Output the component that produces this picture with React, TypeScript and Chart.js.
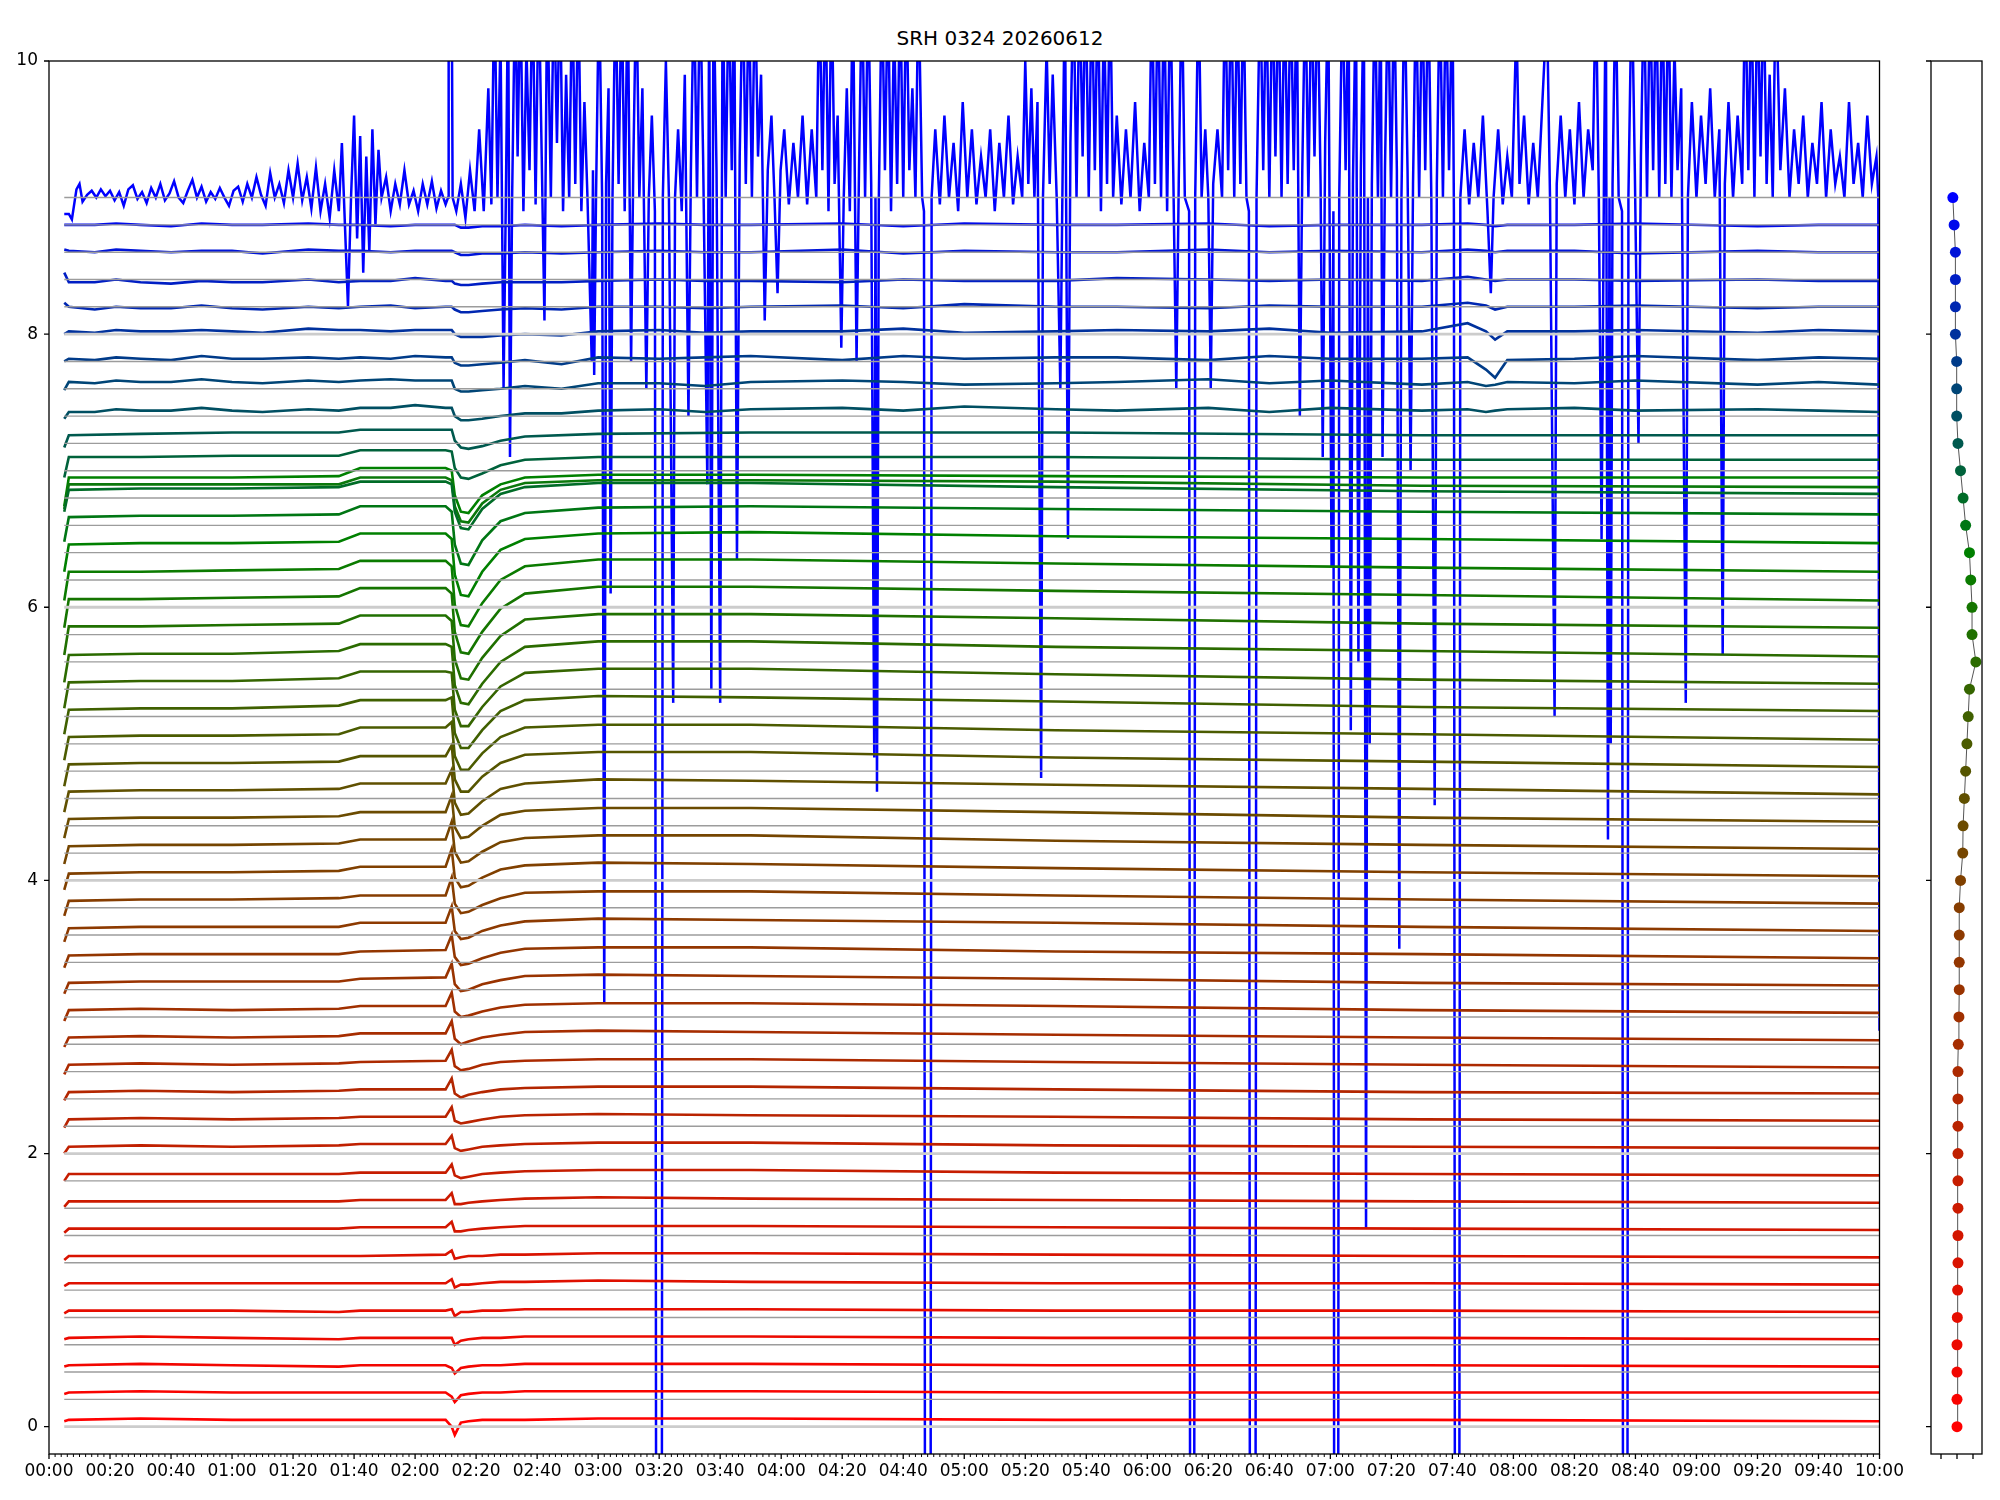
import React, { useEffect, useRef } from "react";
import { Chart, registerables } from "chart.js";
Chart.register(...registerables);

const TITLE = "SRH 0324 20260612";
const FONT = "DejaVu Sans";

// key times (minutes after 00:00) at which each trace level was read
const KEY_MIN = [5, 6.5, 30, 60, 95, 102, 130, 132, 133, 135, 137.5, 142, 148, 156, 180, 230, 330, 450, 600];

// channel vertical offsets (also the dot positions of the right panel)
const CHANNEL_OFFSETS = [
  0, 0.2, 0.4, 0.6, 0.8, 1.0, 1.2, 1.4, 1.6, 1.8, 2.0, 2.2, 2.4, 2.6, 2.8, 3.0,
  3.2, 3.4, 3.6, 3.8, 4.0, 4.2, 4.4, 4.6, 4.8, 5.0, 5.2, 5.4, 5.6, 5.8, 6.0, 6.2,
  6.4, 6.6, 6.8, 7.0, 7.2, 7.4, 7.6, 7.8, 8.0, 8.2, 8.4, 8.6, 8.8, 9.0,
];

// right panel: horizontal position of each channel dot
const DOT_X = [
  0.0, 0.0, 0.0, 0.0, 0.02, 0.04, 0.06, 0.06, 0.06, 0.06, 0.06, 0.06, 0.06, 0.06, 0.08, 0.12,
  0.14, 0.14, 0.14, 0.14, 0.22, 0.36, 0.38, 0.46, 0.54, 0.62, 0.7, 0.78, 1.18, 0.94, 0.94, 0.86,
  0.78, 0.54, 0.38, 0.22, 0.06, -0.02, -0.02, -0.02, -0.1, -0.1, -0.1, -0.1, -0.18, -0.26,
];

// deviation (hundredths) of traces 0..44 from their offsets at KEY_MIN
const TRACE_DEV = [
  [4, 5, 6, 5, 5, 5, 5, 0, -6, 3, 4, 5, 5, 5, 6, 6, 5, 5, 4],
  [4, 5, 6, 5, 5, 5, 5, 2, -2, 3, 4, 5, 5, 6, 6, 6, 5, 5, 5],
  [4, 5, 6, 5, 4, 5, 5, 3, -1, 3, 4, 5, 5, 6, 6, 6, 5, 5, 4],
  [4, 5, 6, 5, 4, 5, 5, 5, 0, 3, 4, 5, 5, 6, 6, 6, 5, 5, 4],
  [3, 5, 5, 5, 4, 5, 5, 6, 1, 4, 4, 5, 5, 6, 6, 6, 5, 5, 4],
  [3, 5, 5, 5, 5, 5, 5, 8, 2, 4, 4, 5, 6, 6, 7, 6, 5, 5, 4],
  [2, 5, 5, 5, 5, 5, 6, 9, 3, 4, 5, 5, 6, 6, 7, 7, 6, 5, 4],
  [2, 5, 5, 5, 5, 6, 6, 10, 3, 3, 4, 5, 6, 7, 7, 7, 6, 5, 4],
  [1, 5, 5, 5, 5, 6, 6, 11, 3, 3, 4, 5, 6, 7, 8, 7, 6, 5, 4],
  [0, 5, 5, 5, 5, 6, 6, 12, 4, 2, 3, 5, 6, 7, 8, 8, 6, 5, 4],
  [0, 5, 6, 5, 6, 7, 7, 13, 4, 2, 3, 5, 6, 7, 8, 8, 6, 5, 4],
  [-1, 5, 6, 5, 6, 7, 7, 14, 4, 2, 3, 5, 7, 8, 9, 8, 7, 5, 4],
  [-1, 5, 6, 5, 6, 7, 7, 15, 4, 1, 3, 5, 7, 8, 9, 9, 7, 5, 4],
  [-2, 5, 6, 5, 6, 7, 8, 16, 4, 1, 2, 5, 7, 8, 9, 9, 7, 5, 3],
  [-2, 5, 6, 5, 6, 8, 8, 17, 4, 0, 2, 5, 7, 9, 10, 9, 7, 5, 3],
  [-3, 5, 6, 5, 6, 8, 8, 18, 4, 0, 1, 4, 7, 9, 10, 10, 8, 5, 3],
  [-3, 5, 6, 6, 6, 8, 9, 19, 4, -1, 0, 4, 7, 10, 11, 10, 8, 5, 3],
  [-4, 5, 6, 6, 6, 8, 9, 20, 4, -2, -1, 3, 7, 10, 11, 11, 8, 6, 3],
  [-5, 5, 6, 6, 6, 9, 9, 21, 3, -3, -2, 3, 7, 10, 12, 11, 9, 6, 3],
  [-6, 5, 6, 6, 7, 9, 9, 22, 3, -4, -3, 2, 7, 11, 12, 12, 9, 6, 3],
  [-7, 5, 6, 6, 7, 10, 10, 23, 2, -5, -4, 2, 8, 11, 13, 12, 9, 6, 3],
  [-8, 5, 6, 6, 7, 10, 10, 23, 1, -7, -6, 1, 8, 11, 13, 13, 9, 6, 3],
  [-9, 5, 6, 6, 7, 10, 10, 22, -1, -9, -8, 0, 8, 11, 13, 13, 10, 6, 3],
  [-10, 5, 6, 6, 7, 11, 11, 21, -3, -12, -11, -2, 7, 11, 14, 13, 10, 7, 3],
  [-11, 5, 6, 6, 7, 11, 11, 19, -6, -15, -15, -4, 6, 12, 14, 14, 10, 7, 3],
  [-12, 5, 6, 6, 7, 12, 12, 16, -9, -19, -19, -7, 5, 12, 14, 14, 10, 7, 3],
  [-13, 5, 6, 6, 8, 12, 12, 14, -12, -23, -23, -10, 4, 12, 15, 14, 11, 7, 4],
  [-14, 5, 6, 6, 8, 13, 13, 12, -15, -27, -27, -13, 2, 12, 15, 15, 11, 7, 4],
  [-15, 5, 6, 6, 8, 13, 13, 11, -17, -30, -31, -16, 0, 11, 15, 15, 11, 8, 4],
  [-15, 6, 6, 7, 8, 14, 14, 10, -18, -32, -33, -17, -1, 11, 15, 15, 12, 8, 5],
  [-15, 6, 6, 7, 8, 14, 14, 10, -18, -33, -34, -18, -1, 10, 15, 15, 12, 9, 5],
  [-15, 6, 6, 7, 8, 14, 14, 10, -18, -33, -34, -17, 0, 10, 15, 15, 12, 9, 6],
  [-14, 6, 7, 7, 8, 14, 14, 10, -16, -31, -32, -14, 2, 10, 14, 15, 12, 10, 7],
  [-12, 6, 7, 7, 8, 14, 14, 10, -14, -28, -29, -11, 3, 9, 13, 14, 12, 10, 8],
  [-10, 6, 7, 7, 8, 12, 12, 10, -10, -22, -23, -8, 3, 8, 11, 11, 8, 5, 3],
  [-5, 10, 10, 11, 11, 15, 15, 14, 2, -5, -6, -2, 4, 8, 10, 10, 10, 8, 8],
  [-3, 6, 7, 8, 8, 10, 10, 10, 2, -3, -4, -2, 2, 5, 7, 8, 8, 6, 6],
  [-2, 3, 4, 4, 4, 6, 6, 6, 0, -3, -3, -2, 0, 2, 4, 5, 5, 4, 3],
  [-1, 5, 5, 5, 5, 6, 6, 6, 0, -2, -2, -1, 0, 2, 4, 5, 4, 3, 3],
  [0, 2, 2, 2, 2, 3, 3, 3, -1, -3, -3, -2, -1, 1, 3, 4, 3, 2, 2],
  [0, 2, 2, 2, 3, 3, 3, 3, 0, -2, -2, -2, -1, 0, 2, 2, 2, 2, 2],
  [3, 0, -1, -1, -1, 0, 0, 0, -2, -4, -4, -3, -2, -1, 0, 0, 0, 0, 0],
  [5, -2, -2, -2, -2, -1, -1, -1, -3, -4, -4, -3, -2, -2, -1, -1, -1, -1, -1],
  [2, 1, 1, 1, 1, 1, 1, 1, 0, -2, -2, -1, -1, 0, 0, 0, 0, 0, 0],
  [0, 0, 0, 0, 0, 0, 0, 0, 0, -2, -2, -1, -1, 0, 0, 0, 0, 0, 0],
];

// extra readings (hundredths) of the wavy blue channels 37..44 at RIPPLE_MIN
const RIPPLE_MIN = [15, 22, 40, 50, 70, 85, 112, 120, 168, 200, 215, 260, 280, 300, 350, 380, 400, 420, 465, 471, 474, 478, 500, 520, 560, 580];
const RIPPLE_FIRST = 37;
const RIPPLE_DEV = [
  [3, 5, 4, 6, 3, 5, 6, 8, 2, 5, 3, 6, 4, 7, 4, 6, 3, 6, 5, 3, 4, 5, 6, 4, 5, 4],
  [4, 6, 5, 7, 4, 6, 7, 6, 0, 4, 2, 6, 5, 3, 5, 7, 4, 6, 5, 2, 3, 5, 4, 6, 3, 5],
  [1, 3, 1, 4, 2, 3, 2, 4, -2, 2, 3, 1, 4, 2, 3, 1, 4, 2, 3, -6, -12, 1, 2, 4, 1, 3],
  [1, 3, 2, 3, 1, 4, 2, 3, -1, 3, 1, 2, 4, 1, 3, 2, 4, 1, 8, 2, -4, 2, 2, 3, 1, 3],
  [-2, 0, -1, 1, -2, 0, 1, -1, -2, 0, -1, 1, -1, 2, 0, -1, 1, 0, 3, 1, -2, 0, 0, 1, -1, 0],
  [-2, 0, -3, -1, -2, 0, -1, 1, -2, 0, -1, -2, 0, -1, 1, 0, -1, 0, 2, 0, -1, 0, 0, -1, 0, -1],
  [0, 2, 0, 1, -1, 2, 0, 1, -1, 1, 0, 2, -1, 1, 0, 2, 0, 1, 2, 1, 0, 1, 1, -1, 1, 0],
  [0, 1, -1, 1, 0, 1, -1, 0, -1, 1, 0, 1, -1, 1, 0, 1, -1, 0, 1, 0, -1, 0, 0, 1, -1, 0],
];

// two further green traces that run in the bundle near 6.9
const EXTRA_BASE = 6.8;
const EXTRA_DEV = [
  [-8, 10, 10, 10, 10, 15, 15, 13, -6, -17, -18, -4, 6, 11, 13, 13, 12, 9, 8],
  [-6, 15, 15, 15, 16, 22, 22, 20, 2, -10, -11, 2, 10, 15, 17, 17, 16, 15, 15],
];
const EXTRA_COLORS = ["#0b780b", "#008000"];

// top channel (9.0): [minute, value]
const TOP_TRACE: [number, number][] = [
  [5, 8.88], [6.5, 8.88], [7.5, 8.84], [9, 9.06], [10, 9.1], [11, 8.97], [12.5, 9.02], [14, 9.05], [15.5, 9.0],
  [17, 9.06], [18.5, 9.01], [20, 9.05], [21.5, 8.98], [23, 9.04], [24.5, 8.94], [26, 9.06], [27.5, 9.09], [29, 8.99],
  [30.5, 9.04], [32, 8.96], [33.5, 9.07], [35, 9.0], [36.5, 9.1], [38, 8.98], [39.5, 9.03], [41, 9.12], [42.5, 9.0],
  [44, 8.96], [45.5, 9.05], [47, 9.13], [48.5, 9.0], [50, 9.08], [51.5, 8.97], [53, 9.04], [54.5, 8.99], [56, 9.07],
  [57.5, 9.0], [59, 8.94], [60.5, 9.05], [62, 9.08], [63.5, 8.97], [65, 9.1], [66.5, 9.0], [68, 9.15], [69.5, 9.02],
  [71, 8.94], [72.5, 9.18], [74, 9.0], [75.5, 9.1], [77, 8.96], [78.5, 9.2], [80, 9.0], [81.5, 9.25], [83, 8.98],
  [84.5, 9.15], [86, 8.92], [87.5, 9.22], [89, 8.9], [90.5, 9.1], [92, 8.85], [93.5, 9.2], [95, 8.9], [96, 9.4],
  [97, 8.8], [98, 8.2], [99, 9.0], [100, 9.6], [101, 8.7], [102, 9.45], [103, 8.45], [104, 9.3], [105, 8.6],
  [106, 9.5], [107, 8.8], [108, 9.35], [109, 9.0], [110.5, 9.15], [112, 8.9], [113.5, 9.1], [115, 8.95], [116.5, 9.2],
  [118, 8.95], [119.5, 9.05], [121, 8.9], [122.5, 9.1], [124, 8.95], [125.5, 9.12], [127, 8.92], [128.5, 9.05],
  [130, 8.95], [130.8, 9.0], [131, 10.6], [132, 10.6], [132.3, 9.0], [133.5, 8.9], [135, 9.1], [136.5, 8.85],
  [138, 9.2], [139.5, 8.9], [141, 9.5], [142.5, 8.9], [144, 9.8], [145, 8.95], [146, 10.6], [147, 9.0], [148, 10.2],
  [149, 7.6], [149.8, 9.1], [150.5, 10.6], [151.1, 7.1], [151.8, 9.0], [152.8, 10.6], [153.6, 9.3], [154.5, 10.6],
  [155.5, 8.9], [156.5, 10.1], [157.5, 9.2], [158.5, 10.6], [159.5, 8.95], [160.5, 10.6], [161.5, 9.3], [162.4, 8.1],
  [163.3, 10.6], [164.5, 9.0], [165.5, 10.6], [166.5, 9.4], [167.5, 10.6], [168.5, 8.9], [169.5, 9.9], [170.5, 9.0],
  [171.5, 10.6], [172.5, 9.1], [173.5, 10.6], [174.5, 8.9], [175.5, 9.7], [176.5, 9.0], [177.9, 7.8], [178.3, 9.2],
  [178.7, 7.7], [179.3, 9.0], [180.3, 10.6], [181.3, 9.0], [182.0, 3.1], [182.6, 9.1], [183.4, 9.8], [184.1, 6.1],
  [184.7, 9.0], [185.7, 10.6], [186.7, 9.1], [187.7, 10.6], [188.7, 8.9], [189.7, 10.6], [190.8, 7.8], [191.5, 9.2],
  [192.5, 10.6], [193.5, 9.0], [194.5, 9.8], [195.8, 7.6], [196.6, 9.0], [197.6, 9.6], [198.6, 8.9], [199.1, -3],
  [200.8, -3], [201.2, 9.0], [202.2, 10.0], [203.2, 9.0], [204.6, 5.3], [205.2, 9.0], [206.2, 9.5], [207.4, 8.9],
  [208.4, 9.9], [209.6, 7.4], [210.4, 9.2], [211.4, 10.6], [212.4, 9.0], [213.4, 10.6], [214.4, 9.3], [215.8, 6.9],
  [216.4, 10.6], [217.1, 5.4], [217.8, 10.6], [218.8, 9.2], [220.0, 5.3], [220.8, 10.6], [221.8, 9.0], [222.8, 10.6],
  [223.8, 9.2], [224.6, 10.6], [225.5, 6.35], [226.4, 9.3], [227.4, 10.6], [228.4, 9.1], [229.4, 10.6], [230.4, 9.0],
  [231.4, 10.6], [232.4, 9.3], [233.4, 9.9], [234.6, 8.1], [235.6, 9.2], [236.8, 9.6], [237.8, 9.0], [238.8, 8.3],
  [239.8, 9.2], [241, 9.5], [242.5, 8.95], [244, 9.4], [245.5, 9.0], [247, 9.6], [248.5, 8.95], [250, 9.5],
  [251.5, 9.0], [252.5, 10.6], [253.5, 9.2], [254.5, 10.6], [255.5, 8.9], [256.5, 10.6], [257.5, 9.1], [258.5, 9.6],
  [259.7, 7.9], [260.5, 9.0], [261.5, 9.8], [262.5, 8.9], [263.5, 10.6], [264.7, 7.8], [265.5, 9.2], [266.5, 10.6],
  [267.5, 9.0], [268.5, 10.6], [269.5, 9.1], [270.5, 4.9], [270.9, 9.0], [271.4, 4.65], [272, 9.0], [273, 10.6],
  [274, 9.2], [275, 10.6], [276, 8.9], [277, 10.3], [278, 9.1], [279, 10.6], [280, 9.0], [281, 10.6], [282, 9.2],
  [283, 9.8], [284, 9.0], [285, 10.6], [286.2, 9.0], [286.8, 8.9], [287.2, -3], [288.9, -3], [289.3, 9.0],
  [290.5, 9.5], [292, 8.95], [293.5, 9.6], [295, 9.0], [296.5, 9.4], [298, 8.9], [299.5, 9.7], [301, 9.0],
  [302.5, 9.5], [304, 8.95], [305.5, 9.3], [307, 9.0], [308.5, 9.5], [310, 8.9], [311.5, 9.4], [313, 9.0],
  [314.5, 9.6], [316, 8.95], [317.5, 9.3], [319, 9.0], [320, 10.0], [321, 9.1], [322, 9.8], [323, 9.0], [324, 9.7],
  [325.2, 4.75], [325.8, 9.0], [327, 10.1], [328, 9.1], [329, 9.9], [330.3, 9.0], [331.5, 7.6], [332.3, 9.3],
  [333, 10.6], [334, 6.5], [334.8, 9.4], [335.8, 10.6], [336.8, 9.0], [337.8, 10.6], [338.8, 9.3], [339.8, 10.6],
  [340.8, 9.0], [341.8, 10.6], [342.8, 9.2], [343.8, 10.6], [344.8, 8.9], [345.8, 10.4], [346.8, 9.1], [347.8, 10.6],
  [348.8, 9.0], [350, 9.6], [351.5, 8.95], [353, 9.5], [354.5, 9.0], [356, 9.7], [357.5, 8.9], [359, 9.4],
  [360.5, 9.0], [361.5, 10.6], [362.5, 9.1], [363.5, 10.6], [364.5, 9.0], [365.5, 10.6], [366.5, 8.9], [367.5, 10.6],
  [368.5, 9.2], [369.5, 7.6], [370.3, 9.1], [371.3, 10.6], [372.3, 9.0], [373.7, 8.9], [374.1, -3], [375.3, -3],
  [375.7, 9.0], [376.8, 10.6], [377.8, 9.0], [379, 9.5], [380, 9.0], [380.8, 7.6], [381.6, 9.1], [383, 9.5],
  [384.5, 9.0], [385.5, 10.6], [386.5, 9.2], [387.5, 10.6], [388.5, 9.0], [389.5, 10.6], [390.5, 9.1], [391.5, 10.6],
  [392.5, 9.0], [393.3, 8.9], [393.7, -3], [395.4, -3], [395.8, 9.0], [397, 10.6], [398, 9.2], [399, 10.6], [400, 9.0],
  [401, 10.6], [402, 9.3], [403, 10.6], [404, 9.0], [405, 10.6], [406, 9.1], [407, 10.6], [408, 9.2], [409, 10.6],
  [410, 7.4], [410.8, 9.2], [411.8, 10.6], [412.8, 9.0], [413.8, 10.6], [414.8, 9.3], [415.8, 10.6], [416.8, 9.1],
  [417.5, 7.1], [418.3, 9.4], [419.3, 10.6], [420.4, 6.3], [421, 8.9], [421.3, -3], [422.5, -3], [422.9, 9.0],
  [424, 10.6], [425, 9.2], [426, 10.6], [426.7, 5.1], [427.4, 9.1], [428.4, 10.6], [429.2, 5.6], [430, 9.2],
  [431, 10.6], [431.7, 1.45], [432.3, 9.0], [432.9, 5.0], [433.6, 9.1], [434.6, 10.6], [435.6, 9.0], [436.5, 10.6],
  [437.1, 7.1], [437.9, 9.2], [438.9, 10.6], [439.9, 9.0], [440.9, 10.6], [441.8, 9.2], [442.6, 3.5], [443.3, 9.0],
  [444.3, 10.6], [445.3, 9.2], [446.3, 7.0], [447.1, 9.1], [448.1, 10.6], [449.1, 9.0], [450.1, 10.6], [451.1, 9.2],
  [452.1, 10.6], [453.1, 9.0], [454.2, 4.55], [454.9, 9.1], [455.9, 10.6], [456.9, 9.0], [457.9, 10.6], [458.9, 9.2],
  [460, 10.6], [460.5, 8.9], [460.9, -3], [462.2, -3], [462.6, 9.0], [464, 9.5], [465.5, 8.95], [467, 9.4],
  [468.5, 9.0], [470, 9.6], [471.5, 8.9], [472.6, 8.3], [473.5, 9.0], [475, 9.5], [476.5, 8.95], [478, 9.3],
  [479.5, 9.0], [481, 10.3], [482, 9.1], [483.5, 9.6], [485, 8.95], [486.5, 9.4], [488, 9.0], [489.5, 9.7],
  [491, 10.4], [492, 9.0], [493.5, 5.2], [494.2, 9.1], [495.5, 9.6], [497, 9.0], [498.5, 9.5], [500, 8.95],
  [501.5, 9.7], [503, 9.0], [504.5, 9.5], [506, 9.2], [507, 10.6], [508, 9.0], [508.9, 6.5], [509.7, 9.2],
  [510.3, 10.6], [511, 4.3], [511.5, 9.0], [511.9, 5.0], [512.5, 9.1], [513.5, 10.6], [514.5, 9.0], [515.6, 8.9],
  [516, -3], [517.3, -3], [517.7, 9.0], [518.8, 10.6], [519.8, 9.2], [521, 7.2], [521.8, 9.3], [522.8, 10.6],
  [523.8, 9.0], [524.8, 10.6], [525.8, 9.2], [526.8, 10.6], [527.8, 9.0], [528.8, 10.6], [529.8, 9.1], [530.8, 10.6],
  [531.8, 9.0], [532.8, 10.1], [533.8, 9.2], [535, 9.8], [536.5, 5.3], [537.2, 9.0], [538.5, 9.7], [540, 9.0],
  [541.5, 9.6], [543, 9.1], [544.5, 9.8], [546, 9.0], [547.5, 9.5], [548.6, 5.65], [549.3, 9.1], [550.5, 9.7],
  [552, 9.0], [553.5, 9.6], [555, 9.1], [556, 10.6], [557, 9.2], [558, 10.6], [559, 9.0], [560, 10.6], [561, 9.3],
  [562, 10.6], [563, 9.1], [564, 9.9], [565, 9.0], [566, 10.6], [567.5, 9.2], [569, 9.8], [570.5, 9.0], [572, 9.5],
  [573.5, 9.1], [575, 9.6], [576.5, 9.0], [578, 9.4], [579.5, 9.1], [581, 9.7], [582.5, 9.0], [584, 9.5],
  [585.5, 9.1], [587, 9.3], [588.5, 9.0], [590, 9.7], [591.5, 9.1], [593, 9.4], [594.5, 9.0], [596, 9.6],
  [597.5, 9.1], [599, 9.3], [599.6, 9.0], [600, 2.9],
];

const X_MAJOR = [0, 20, 40, 60, 80, 100, 120, 140, 160, 180, 200, 220, 240, 260, 280, 300, 320, 340, 360, 380, 400, 420, 440, 460, 480, 500, 520, 540, 560, 580, 600];
const Y_MAJOR = [0, 2, 4, 6, 8, 10];
const PANEL_X_TICKS = [-1, 0, 1];

// colour ramp stops by channel index: red -> brown -> green -> blue
const COLOR_STOPS: [number, number[]][] = [
  [0, [255, 0, 0]],
  [20, [128, 64, 0]],
  [32, [0, 128, 0]],
  [45, [0, 0, 255]],
];

function channelColor(k: number): string {
  for (let i = 0; i < COLOR_STOPS.length - 1; i++) {
    const [a, ca] = COLOR_STOPS[i];
    const [b, cb] = COLOR_STOPS[i + 1];
    if (k >= a && k <= b) {
      const t = (k - a) / (b - a);
      const c = ca.map((v, j) => Math.round(v + (cb[j] - v) * t));
      return `rgb(${c[0]},${c[1]},${c[2]})`;
    }
  }
  return "rgb(0,0,255)";
}

function fmtTime(v: number): string {
  const h = Math.floor(v / 60);
  const m = Math.round(v - h * 60);
  return `${String(h).padStart(2, "0")}:${String(m).padStart(2, "0")}`;
}

const frameTicks = {
  id: "frameTicks",
  afterDraw(chart: any, _args: any, opts: any) {
    const { ctx, chartArea: a, scales } = chart;
    ctx.save();
    ctx.strokeStyle = "#000";
    ctx.lineWidth = 1.3;
    ctx.strokeRect(a.left, a.top, a.right - a.left, a.bottom - a.top);
    ctx.beginPath();
    for (const v of opts.xMajor || []) {
      const px = scales.x.getPixelForValue(v);
      ctx.moveTo(px, a.bottom);
      ctx.lineTo(px, a.bottom + 5);
    }
    for (const v of opts.yMajor || []) {
      const py = scales.y.getPixelForValue(v);
      ctx.moveTo(a.left, py);
      ctx.lineTo(a.left - 5, py);
    }
    ctx.stroke();
    ctx.beginPath();
    ctx.lineWidth = 1;
    for (const v of opts.xMinor || []) {
      const px = scales.x.getPixelForValue(v);
      ctx.moveTo(px, a.bottom);
      ctx.lineTo(px, a.bottom + 3);
    }
    ctx.stroke();
    ctx.restore();
  },
};

function traceData(offset: number, dev: number[], ripple?: number[]) {
  const pts = KEY_MIN.map((t, i) => ({ x: t, y: offset + dev[i] / 100 }));
  if (ripple) {
    RIPPLE_MIN.forEach((t, i) => pts.push({ x: t, y: offset + ripple[i] / 100 }));
    pts.sort((a, b) => a.x - b.x);
  }
  return pts;
}

const TRACE_WIDTH = 2.6;

export default function App() {
  const mainRef = useRef<HTMLCanvasElement | null>(null);
  const panelRef = useRef<HTMLCanvasElement | null>(null);

  useEffect(() => {
    const datasets: any[] = [];
    CHANNEL_OFFSETS.forEach((off, k) => {
      const major = k % 10 === 0;
      datasets.push({
        data: [{ x: 5, y: off }, { x: 600, y: off }],
        borderColor: major ? "#cccccc" : "#9c9c9c",
        borderWidth: major ? 2.8 : 1.4,
        pointRadius: 0,
      });
    });
    TRACE_DEV.forEach((dev, k) => {
      if (k === 35) {
        EXTRA_DEV.forEach((ed, j) => {
          datasets.push({
            data: traceData(EXTRA_BASE, ed),
            borderColor: EXTRA_COLORS[j],
            borderWidth: TRACE_WIDTH,
            pointRadius: 0,
          });
        });
      }
      const rip = k >= RIPPLE_FIRST ? RIPPLE_DEV[k - RIPPLE_FIRST] : undefined;
      datasets.push({
        data: traceData(CHANNEL_OFFSETS[k], dev, rip),
        borderColor: channelColor(k),
        borderWidth: TRACE_WIDTH,
        pointRadius: 0,
      });
    });
    datasets.push({
      data: TOP_TRACE.map(([x, y]) => ({ x, y })),
      borderColor: channelColor(45),
      borderWidth: 2.5,
      pointRadius: 0,
    });

    const tickFont = { family: FONT, size: 17 };
    const main = new Chart(mainRef.current as HTMLCanvasElement, {
      type: "line",
      data: { datasets },
      plugins: [frameTicks],
      options: {
        animation: false,
        responsive: false,
        devicePixelRatio: 1,
        events: [],
        layout: { padding: { top: 61, right: 30, left: 0, bottom: 0 } },
        elements: { line: { tension: 0 } },
        plugins: {
          legend: { display: false },
          tooltip: { enabled: false },
          frameTicks: {
            xMajor: X_MAJOR,
            xMinor: Array.from({ length: 301 }, (_, i) => i * 2).filter((v) => v % 20 !== 0),
            yMajor: Y_MAJOR,
          },
        } as any,
        scales: {
          x: {
            type: "linear",
            min: 0,
            max: 600,
            grid: { display: false, drawTicks: false },
            border: { display: false },
            afterBuildTicks: (s: any) => {
              s.ticks = X_MAJOR.map((v) => ({ value: v }));
            },
            afterFit: (s: any) => {
              s.height = 46;
            },
            ticks: {
              padding: 7,
              maxRotation: 0,
              autoSkip: false,
              font: tickFont,
              color: "#000",
              callback: (v: any) => fmtTime(Number(v)),
            },
          },
          y: {
            type: "linear",
            min: -0.2,
            max: 10,
            grid: { display: false, drawTicks: false },
            border: { display: false },
            afterBuildTicks: (s: any) => {
              s.ticks = Y_MAJOR.map((v) => ({ value: v }));
            },
            afterFit: (s: any) => {
              s.width = 49;
            },
            ticks: {
              padding: 11,
              font: tickFont,
              color: "#000",
              callback: (v: any) => String(v),
            },
          },
        },
      },
    });

    const panel = new Chart(panelRef.current as HTMLCanvasElement, {
      type: "line",
      data: {
        datasets: [
          {
            data: DOT_X.map((x, i) => ({ x, y: CHANNEL_OFFSETS[i] })),
            borderColor: "#555555",
            borderWidth: 1,
            pointRadius: 5.5,
            pointBorderWidth: 0,
            pointBackgroundColor: CHANNEL_OFFSETS.map((_, i) => channelColor(i)),
            pointBorderColor: CHANNEL_OFFSETS.map((_, i) => channelColor(i)),
          },
        ],
      },
      plugins: [frameTicks],
      options: {
        animation: false,
        responsive: false,
        devicePixelRatio: 1,
        events: [],
        layout: { padding: { top: 61, right: 18, left: 0, bottom: 0 } },
        elements: { line: { tension: 0 } },
        plugins: {
          legend: { display: false },
          tooltip: { enabled: false },
          frameTicks: { xMajor: PANEL_X_TICKS, xMinor: [], yMajor: Y_MAJOR },
        } as any,
        scales: {
          x: {
            type: "linear",
            min: -1.625,
            max: 1.5625,
            grid: { display: false, drawTicks: false },
            border: { display: false },
            ticks: { display: false },
            afterFit: (s: any) => {
              s.height = 46;
            },
          },
          y: {
            type: "linear",
            min: -0.2,
            max: 10,
            grid: { display: false, drawTicks: false },
            border: { display: false },
            ticks: { display: false },
            afterFit: (s: any) => {
              s.width = 31;
            },
          },
        },
      },
    });

    return () => {
      main.destroy();
      panel.destroy();
    };
  }, []);

  return (
    <div style={{ position: "absolute", left: 0, top: 0, width: 2000, height: 1500, background: "#fff" }}>
      <div
        style={{
          position: "absolute",
          left: 0,
          top: 26,
          width: 2000,
          textAlign: "center",
          fontFamily: FONT,
          fontSize: 20,
          lineHeight: "24px",
          color: "#000",
        }}
      >
        {TITLE}
      </div>
      <canvas ref={mainRef} width={1911} height={1500} style={{ position: "absolute", left: 0, top: 0 }} />
      <canvas ref={panelRef} width={100} height={1500} style={{ position: "absolute", left: 1900, top: 0 }} />
    </div>
  );
}
